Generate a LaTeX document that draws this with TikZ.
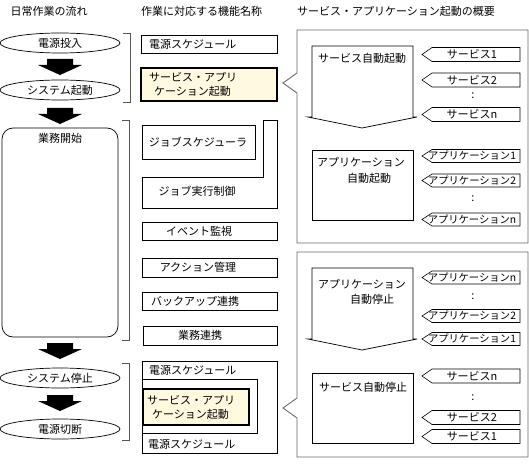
\documentclass[tikz,border=0pt]{standalone}
\usepackage{fontspec}
\setmainfont{Noto Sans CJK JP}
\usetikzlibrary{shapes.geometric}
\definecolor{cream}{RGB}{255,249,224}
\definecolor{panelgray}{RGB}{105,105,105}
\definecolor{brkgray}{RGB}{85,85,85}
\newcommand{\tagbox}[5]{%
  \draw[tagline] (422,#2) -- (432,#2-#4) -- (520,#2-#4) -- (520,#2+#4) -- (432,#2+#4) -- cycle;
  \node[font=\fontsize{#5}{13}\selectfont] (#1) at (472,#2) {#3};}
\begin{document}
\begin{tikzpicture}[x=1pt,y=-1pt,
  every node/.style={font=\fontsize{11}{14}\selectfont, inner sep=0pt},
  flowell/.style={draw=black, line width=0.7pt, ellipse, minimum width=120pt, minimum height=20pt},
  fbox/.style={draw=black, line width=0.7pt},
  ybox/.style={draw=black, line width=1.8pt, fill=cream},
  panel/.style={draw=panelgray, line width=0.9pt},
  brk/.style={draw=brkgray, line width=0.9pt},
  tagline/.style={draw=black, line width=0.6pt},
  downarr/.pic={\fill[black] (-13,0) -- (13,0) -- (13,6) -- (22,6) -- (0,16) -- (-22,6) -- (-13,6) -- cycle;}
]
\useasboundingbox (0,0) rectangle (529,465);

% titles
\node (t1) at (49,11) {日常作業の流れ};
\node[anchor=west] (t2) at (141,11) {作業に対応する機能名称};
\node[anchor=west] (t3) at (297,11) {サービス・アプリケーション起動の概要};

% left flow
\node[flowell] (e1) at (60,43) {電源投入};
\pic at (60,59) {downarr};
\node[flowell] (e2) at (60,90) {システム起動};
\pic at (60,108) {downarr};
\draw[line width=0.7pt, rounded corners=11pt] (2,128) rectangle (118,337);
\node (work) at (60,138) {業務開始};
\pic at (60,343) {downarr};
\node[flowell] (e3) at (60,378) {システム停止};
\pic at (60,395) {downarr};
\node[flowell] (e4) at (60,429) {電源切断};

% brackets
\draw[brk] (123,33) -- (130,33) -- (130,102) -- (123,102);
\draw[brk] (122,120) -- (129,120) -- (129,340) -- (122,340);
\draw[brk] (122,363) -- (129,363) -- (129,440) -- (122,440);

% middle column, upper
\draw[fbox] (141,35) rectangle (277,53);
\node[anchor=west] (ps1) at (149,44) {電源スケジュール};
\draw[ybox] (141,68) rectangle (277,101);
\node[anchor=west, align=left] (sa1) at (149,84.5) {サービス・アプリ\\\hspace*{5pt}ケーション起動};
\draw[fbox] (142,125) rectangle (255,159);
\node (js) at (198,142) {ジョブスケジューラ};
\draw[fbox] (142,177) -- (263,177) -- (263,120) -- (277,120) -- (277,208) -- (142,208) -- cycle;
\node (jc) at (197,191) {ジョブ実行制御};
\draw[fbox] (142,222) rectangle (277,240);
\node (ev) at (199,231) {イベント監視};
\draw[fbox] (142,258) rectangle (277,277);
\node (ac) at (198,267.5) {アクション管理};
\draw[fbox] (142,292) rectangle (277,310);
\node (bk) at (195,301) {バックアップ連携};
\draw[fbox] (143,326) rectangle (277,345);
\node (gy) at (200,335.5) {業務連携};

% middle column, lower
\draw[fbox] (142,361) rectangle (277,453);
\draw[fbox] (142,379) -- (257,379) -- (257,433) -- (142,433);
\node[anchor=west] (ps2) at (149,370) {電源スケジュール};
\draw[ybox] (143,389) rectangle (249,425);
\node[anchor=west, align=left] (sa2) at (147,407.5) {サービス・アプリ\\\hspace*{5pt}ケーション起動};
\node[anchor=west] (ps3) at (148,444) {電源スケジュール};

% right panels
\draw[panel] (297,30) -- (528,30) -- (528,243) -- (297,243) -- (297,93) -- (283,83) -- (297,73) -- cycle;
\draw[panel] (297,252) -- (528,252) -- (528,457) -- (297,457) -- (297,418) -- (283,408) -- (297,398) -- cycle;

% upper panel content
\draw[fbox] (312,46) -- (413,46) -- (413,117) -- (417,117) -- (362,128) -- (308,117) -- (312,117) -- cycle;
\node (ssa) at (362,58) {サービス自動起動};
\draw[fbox] (312,150) rectangle (413,220);
\node[anchor=north west, align=left, font=\fontsize{11}{16}\selectfont] (asa) at (317,157) {アプリケーション\\\hspace*{30pt}自動起動};
\tagbox{s1}{54.5}{サービス1}{7}{11}
\tagbox{s2}{80}{サービス2}{7}{11}
\node (d1) at (473,96) {:};
\tagbox{sn}{114.5}{サービスn}{7}{11}
\tagbox{a1}{156}{アプリケーション1}{6.5}{10.3}
\tagbox{a2}{180.5}{アプリケーション2}{6.5}{10.3}
\node (d2) at (473,199) {:};
\tagbox{an}{219.5}{アプリケーションn}{6.5}{10.3}

% lower panel content
\draw[fbox] (312,268) -- (413,268) -- (413,339) -- (417,339) -- (362,350) -- (308,339) -- (312,339) -- cycle;
\node[anchor=north west, align=left, font=\fontsize{11}{15}\selectfont] (ast) at (318,279) {アプリケーション\\\hspace*{32pt}自動停止};
\draw[fbox] (312,373) rectangle (413,443);
\node (sst) at (363,387) {サービス自動停止};
\tagbox{lan}{277.5}{アプリケーションn}{6.5}{10.3}
\node (d3) at (473,297) {:};
\tagbox{la2}{316}{アプリケーション2}{6.5}{10.3}
\tagbox{la1}{339}{アプリケーション1}{6.5}{10.3}
\tagbox{lsn}{376}{サービスn}{7}{11}
\node (d4) at (473,398) {:};
\tagbox{ls2}{417.5}{サービス2}{7}{11}
\tagbox{ls1}{436.5}{サービス1}{7}{11}
\end{tikzpicture}
\end{document}
